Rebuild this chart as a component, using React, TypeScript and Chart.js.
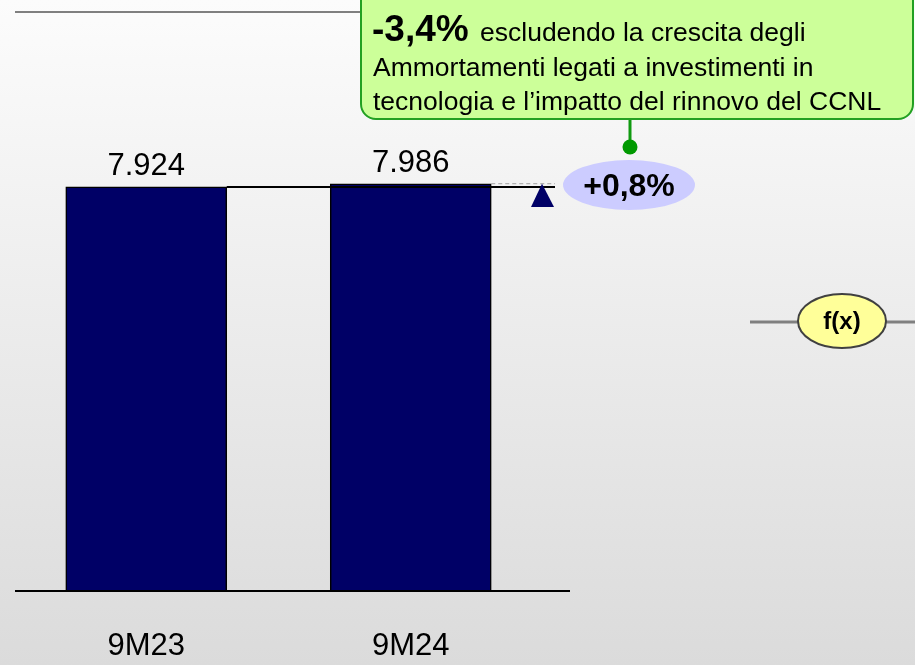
import React, { useEffect, useRef } from "react";
import { Chart, registerables } from "chart.js";

Chart.register(...registerables);

const categories = ["9M23", "9M24"];
const values = [7924, 7986];
const valueLabels = ["7.924", "7.986"];
const growthLabel = "+0,8%";
const calloutBold = "-3,4%";
const calloutLines = [
  " escludendo la crescita degli",
  "Ammortamenti legati a investimenti in",
  "tecnologia e l\u2019impatto del rinnovo del CCNL",
];
const fxLabel = "f(x)";

const FONT = "'Liberation Sans', Arial, sans-serif";

function ellipse(ctx: CanvasRenderingContext2D, cx: number, cy: number, rx: number, ry: number) {
  ctx.beginPath();
  ctx.ellipse(cx, cy, rx, ry, 0, 0, Math.PI * 2);
}

const decorPlugin = {
  id: "decor",
  beforeDraw(chart: any) {
    const { ctx, width, height } = chart;
    ctx.save();
    const g = ctx.createLinearGradient(0, 0, 0, height);
    g.addColorStop(0, "#fcfcfc");
    g.addColorStop(1, "#dbdbdb");
    ctx.fillStyle = g;
    ctx.fillRect(0, 0, width, height);

    // top rule
    ctx.strokeStyle = "#808080";
    ctx.lineWidth = 2;
    ctx.beginPath();
    ctx.moveTo(15, 12);
    ctx.lineTo(400, 12);
    ctx.stroke();

    // f(x) connector lines
    ctx.strokeStyle = "#808080";
    ctx.lineWidth = 3;
    ctx.beginPath();
    ctx.moveTo(750, 322);
    ctx.lineTo(798, 322);
    ctx.moveTo(886, 322);
    ctx.lineTo(915, 322);
    ctx.stroke();
    ctx.restore();
  },
  afterDatasetsDraw(chart: any) {
    const { ctx } = chart;
    const x = chart.scales.x;
    const y = chart.scales.y;
    const meta = chart.getDatasetMeta(0);
    const b0 = meta.data[0];
    const b1 = meta.data[1];
    const y0 = y.getPixelForValue(values[0]);
    const y1 = y.getPixelForValue(values[1]);
    const base = y.getPixelForValue(0);
    ctx.save();

    // baseline
    ctx.strokeStyle = "#000000";
    ctx.lineWidth = 2;
    ctx.beginPath();
    ctx.moveTo(15, base);
    ctx.lineTo(570, base);
    ctx.stroke();

    // reference line at first value
    const r0 = b0.x + b0.width / 2;
    ctx.lineWidth = 2;
    ctx.beginPath();
    ctx.moveTo(r0, y0);
    ctx.lineTo(555, y0);
    ctx.stroke();

    // dashed line at second value
    const r1 = b1.x + b1.width / 2;
    ctx.strokeStyle = "#a0a0a0";
    ctx.lineWidth = 1;
    ctx.setLineDash([4, 3]);
    ctx.beginPath();
    ctx.moveTo(r1, y1);
    ctx.lineTo(555, y1);
    ctx.stroke();
    ctx.setLineDash([]);

    // triangle
    ctx.fillStyle = "#000066";
    ctx.beginPath();
    ctx.moveTo(542, y1);
    ctx.lineTo(554, 207);
    ctx.lineTo(531, 207);
    ctx.closePath();
    ctx.fill();

    // value labels
    ctx.fillStyle = "#000000";
    ctx.font = `31px ${FONT}`;
    ctx.textAlign = "center";
    ctx.textBaseline = "alphabetic";
    meta.data.forEach((bar: any, i: number) => {
      const py = y.getPixelForValue(values[i]);
      ctx.fillText(valueLabels[i], bar.x, py - 12);
    });

    // category labels
    categories.forEach((c, i) => {
      ctx.fillText(c, x.getPixelForValue(i), 655);
    });

    // growth ellipse
    ellipse(ctx, 629, 185, 66, 25);
    ctx.fillStyle = "#ccccff";
    ctx.fill();
    ctx.fillStyle = "#000000";
    ctx.font = `bold 32px ${FONT}`;
    ctx.textBaseline = "middle";
    ctx.fillText(growthLabel, 629, 187);

    // callout connector
    ctx.strokeStyle = "#109a10";
    ctx.lineWidth = 3;
    ctx.beginPath();
    ctx.moveTo(630, 118);
    ctx.lineTo(630, 145);
    ctx.stroke();
    ctx.fillStyle = "#009900";
    ctx.beginPath();
    ctx.arc(630, 147, 7.5, 0, Math.PI * 2);
    ctx.fill();

    // callout box
    ctx.beginPath();
    (ctx as any).roundRect(361, -20, 552, 139, 15);
    ctx.fillStyle = "#ccff99";
    ctx.fill();
    ctx.strokeStyle = "#22a022";
    ctx.lineWidth = 2;
    ctx.stroke();

    ctx.fillStyle = "#000000";
    ctx.textAlign = "left";
    ctx.textBaseline = "alphabetic";
    ctx.font = `bold 37px ${FONT}`;
    ctx.fillText(calloutBold, 372, 41);
    const bw = ctx.measureText(calloutBold).width;
    ctx.font = `26.5px ${FONT}`;
    ctx.fillText(calloutLines[0], 376 + bw, 41);
    ctx.fillText(calloutLines[1], 373, 76);
    ctx.fillText(calloutLines[2], 373, 110);

    // f(x) ellipse
    ellipse(ctx, 842, 321, 44, 27);
    ctx.fillStyle = "#ffff99";
    ctx.fill();
    ctx.strokeStyle = "#404040";
    ctx.lineWidth = 2;
    ctx.stroke();
    ctx.fillStyle = "#000000";
    ctx.textAlign = "center";
    ctx.textBaseline = "middle";
    ctx.font = `bold 24px ${FONT}`;
    ctx.fillText(fxLabel, 842, 322);

    ctx.restore();
  },
};

export default function App() {
  const ref = useRef<HTMLCanvasElement>(null);
  useEffect(() => {
    document.body.style.margin = "0";
    const chart = new Chart(ref.current!, {
      type: "bar",
      data: {
        labels: categories,
        datasets: [
          {
            data: values,
            backgroundColor: "#000066",
            borderColor: "#000000",
            borderWidth: 1.5,
            barThickness: 161,
          },
        ],
      },
      options: {
        animation: false,
        responsive: false,
        layout: { padding: { left: 14, right: 372, top: 81, bottom: 74 } },
        plugins: { legend: { display: false }, tooltip: { enabled: false } },
        scales: {
          x: { display: false, offset: true },
          y: { display: false, min: 0, max: 10000 },
        },
      },
      plugins: [decorPlugin],
    });
    return () => chart.destroy();
  }, []);
  return (
    <div style={{ position: "absolute", left: 0, top: 0, width: 915, height: 665 }}>
      <canvas ref={ref} width={915} height={665} />
    </div>
  );
}
